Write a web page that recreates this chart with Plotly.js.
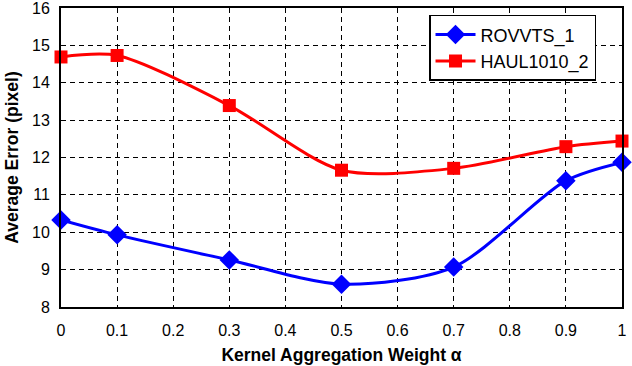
<!DOCTYPE html>
<html>
<head>
<meta charset="utf-8">
<script src="https://cdn.plot.ly/plotly-3.0.1.min.js"></script>
<style>
	html, body { margin: 0; padding: 0; background: #fff; }
	#chart { width: 632px; height: 366px; }
</style>
</head>
<body>
<div id="chart"></div>
<script>
	// kernel aggregation weight alpha
	const alphaValues = [0, 0.1, 0.3, 0.5, 0.7, 0.9, 1];

	// average error (pixel) per sequence
	const rovvtsError = [10.33, 9.93, 9.26, 8.61, 9.07, 11.38, 11.87];
	const haulError = [14.69, 14.73, 13.39, 11.66, 11.71, 12.29, 12.44];

	const seriesNames = ['ROVVTS_1', 'HAUL1010_2'];
	const xTicks = [0, 0.1, 0.2, 0.3, 0.4, 0.5, 0.6, 0.7, 0.8, 0.9, 1];
	const xTickText = ['0', '0.1', '0.2', '0.3', '0.4', '0.5', '0.6', '0.7', '0.8', '0.9', '1'];
	const yTicks = [8, 9, 10, 11, 12, 13, 14, 15, 16];

	const font = 'Liberation Sans, Arial, sans-serif';

	const rovvts = {
		x: alphaValues,
		y: rovvtsError,
		name: seriesNames[0],
		type: 'scatter',
		mode: 'lines+markers',
		line: { color: '#0000ff', width: 3, shape: 'spline', smoothing: 0.8 },
		marker: { symbol: 'diamond', size: 15, color: '#0000ff' },
		cliponaxis: false,
	};

	const haul = {
		x: alphaValues,
		y: haulError,
		name: seriesNames[1],
		type: 'scatter',
		mode: 'lines+markers',
		line: { color: '#ff0000', width: 3, shape: 'spline', smoothing: 0.8 },
		marker: { symbol: 'square', size: 13, color: '#ff0000' },
		cliponaxis: false,
	};

	const gridAxis = {
		showgrid: true,
		gridcolor: '#000',
		gridwidth: 1.2,
		griddash: '5px,4px',
		zeroline: false,
		showline: true,
		linecolor: '#000',
		linewidth: 2,
		mirror: true,
		ticks: '',
		ticklabeloverflow: 'allow',
		tickfont: { family: font, size: 16, color: '#000' },
	};

	const layout = {
		width: 632,
		height: 366,
		margin: { l: 61, r: 10, t: 8, b: 59 },
		paper_bgcolor: '#fff',
		plot_bgcolor: '#fff',
		showlegend: true,
		legend: {
			x: 0.656,
			y: 0.977,
			xanchor: 'left',
			yanchor: 'top',
			bgcolor: '#fff',
			bordercolor: '#000',
			borderwidth: 1.5,
			font: { family: font, size: 18, color: '#000' },
			itemwidth: 40,
		},
		xaxis: Object.assign({}, gridAxis, {
			range: [0, 1],
			tickmode: 'array',
			tickvals: xTicks,
			ticktext: xTickText,
			ticklabelstandoff: 8,
			title: {
				text: 'Kernel Aggregation Weight α',
				font: { family: font, size: 17.5, color: '#000', weight: 'bold' },
				standoff: 11,
			},
		}),
		yaxis: Object.assign({}, gridAxis, {
			range: [8, 16],
			tickmode: 'array',
			tickvals: yTicks,
			ticklabelstandoff: 6,
			title: {
				text: 'Average Error (pixel)',
				font: { family: font, size: 17.5, color: '#000', weight: 'bold' },
				standoff: 9,
			},
		}),
	};

	Plotly.newPlot('chart', [rovvts, haul], layout, { displayModeBar: false, responsive: false });
</script>
</body>
</html>
